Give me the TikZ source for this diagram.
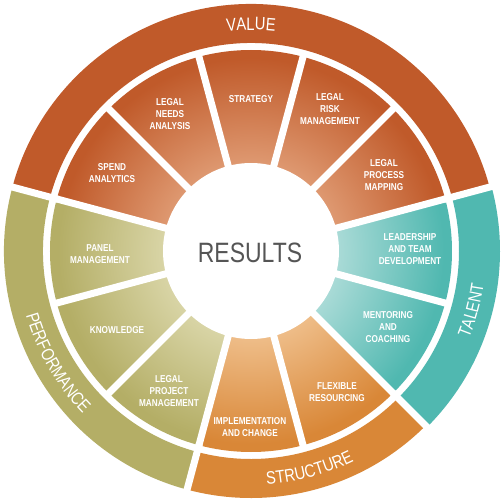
\documentclass[tikz,border=0pt]{standalone}
\usepackage{fontspec}
\setmainfont{Liberation Sans}
\newfontfamily\narrowsans[FakeStretch=0.82]{Liberation Sans}
\usetikzlibrary{decorations.text}

\definecolor{valdark}{RGB}{192,90,42}
\definecolor{vallight}{RGB}{222,152,112}
\definecolor{taldark}{RGB}{80,184,176}
\definecolor{tallight}{RGB}{168,218,214}
\definecolor{strdark}{RGB}{217,135,55}
\definecolor{strlight}{RGB}{238,188,135}
\definecolor{perdark}{RGB}{180,174,102}
\definecolor{perlight}{RGB}{216,212,165}
\definecolor{restext}{RGB}{85,85,85}

\pgfdeclareradialshading{valsh}{\pgfpoint{0bp}{0bp}}{color(0bp)=(vallight); color(11bp)=(vallight); color(24bp)=(valdark); color(50bp)=(valdark)}
\pgfdeclareradialshading{talsh}{\pgfpoint{0bp}{0bp}}{color(0bp)=(tallight); color(11bp)=(tallight); color(24bp)=(taldark); color(50bp)=(taldark)}
\pgfdeclareradialshading{strsh}{\pgfpoint{0bp}{0bp}}{color(0bp)=(strlight); color(11bp)=(strlight); color(24bp)=(strdark); color(50bp)=(strdark)}
\pgfdeclareradialshading{persh}{\pgfpoint{0bp}{0bp}}{color(0bp)=(perlight); color(11bp)=(perlight); color(24bp)=(perdark); color(50bp)=(perdark)}

\newcommand\ringfont{\narrowsans\fontsize{18}{20}\selectfont}
\newcommand\groupwedge[3]{%
  \begin{scope}
    \clip (0,0) -- (#1:260) arc[start angle=#1, end angle=#2, radius=260] -- cycle;
    \shade[shading=#3] (0,0) circle[radius=201];
  \end{scope}}
\newcommand\ringband[4]{%
  \fill[#3] (#1:208) arc[start angle=#1, end angle=#2, radius=208]
    -- (#2:#4) arc[start angle=#2, end angle=#1, radius=#4] -- cycle;}

\tikzset{
  lbl/.style={text=white, font=\narrowsans\bfseries\fontsize{10}{11.7}\selectfont, align=center, inner sep=0pt},
  restxt/.style={text=restext, font=\narrowsans\fontsize{28}{30}\selectfont, inner sep=0pt},
  gapline/.style={white, line width=7pt},
  ringlabel/.style={decorate, decoration={text along path, text align=center, text color=white, text={|\ringfont|#1}}}
}

\begin{document}
\begin{tikzpicture}[x=1pt, y=1pt]
  \useasboundingbox (-251,-253) rectangle (251,251);
  \fill[white] (-251,-253) rectangle (251,251);

  % segment groups
  \groupwedge{15}{165}{valsh}
  \groupwedge{-45}{15}{talsh}
  \groupwedge{-105}{-45}{strsh}
  \groupwedge{165}{255}{persh}

  % outer bands
  \ringband{15}{165}{valdark}{247}
  \ringband{-45}{15}{taldark}{249}
  \ringband{-105}{-45}{strdark}{247}
  \ringband{165}{255}{perdark}{247}

  % centre and gaps
  \fill[white] (0,0) circle[radius=88];
  \foreach \a in {15,45,...,345} \draw[gapline] (\a:80) -- (\a:204.5);
  \foreach \a in {15,-45,-105,165} \draw[gapline] (\a:200) -- (\a:256);

  % ring labels
  \path[ringlabel=VALUE] (105:221) arc[start angle=105, end angle=75, radius=221];
  \path[ringlabel=TALENT] (-40:235) arc[start angle=-40, end angle=10, radius=235];
  \path[ringlabel=STRUCTURE] (-100:234) arc[start angle=-100, end angle=-50, radius=234];
  \path[ringlabel=PERFORMANCE] (180:234) arc[start angle=180, end angle=240, radius=234];

  % segment labels
  \node[lbl] (spend) at (-139,78) {SPEND\\ANALYTICS};
  \node[lbl] (needs) at (-81,137) {LEGAL\\NEEDS\\ANALYSIS};
  \node[lbl] (strategy) at (0,152) {STRATEGY};
  \node[lbl] (risk) at (79,142) {LEGAL\\RISK\\MANAGEMENT};
  \node[lbl] (process) at (133,76) {LEGAL\\PROCESS\\MAPPING};
  \node[lbl] (leader) at (159,2) {LEADERSHIP\\AND TEAM\\DEVELOPMENT};
  \node[lbl] (mentor) at (137,-76) {MENTORING\\AND\\COACHING};
  \node[lbl] (flex) at (86,-141) {FLEXIBLE\\RESOURCING};
  \node[lbl] (impl) at (-1,-176) {IMPLEMENTATION\\AND CHANGE};
  \node[lbl] (project) at (-82,-140) {LEGAL\\PROJECT\\MANAGEMENT};
  \node[lbl] (knowledge) at (-134,-79) {KNOWLEDGE};
  \node[lbl] (panel) at (-151,-3) {PANEL\\MANAGEMENT};

  \node[restxt] (results) at (-1,-2) {RESULTS};
\end{tikzpicture}
\end{document}
